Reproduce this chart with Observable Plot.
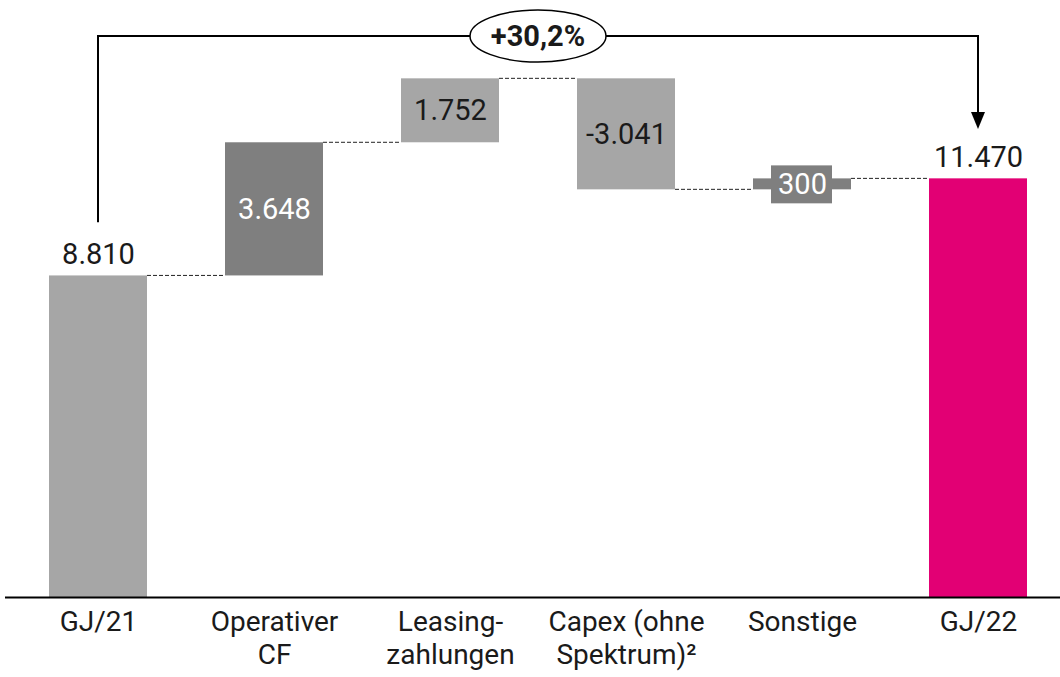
<!DOCTYPE html>
<html><head><meta charset="utf-8">
<script src="https://cdn.jsdelivr.net/npm/d3@7"></script>
<script src="https://cdn.jsdelivr.net/npm/@observablehq/plot@0.6"></script>
<style>body{margin:0;background:#fff;font-family:Roboto,sans-serif}</style>
</head><body><div id="chart"></div>
<script>
const categories = ["GJ/21","Operativer\nCF","Leasing-\nzahlungen","Capex (ohne\nSpektrum)²","Sonstige","GJ/22"];
const values = [8810, 3648, 1752, -3041, 300, 11470];
const kinds = ["total","delta","delta","delta","delta","total"];
const valueLabels = ["8.810","3.648","1.752","-3.041","300","11.470"];
const barColors = ["#a6a6a6","#7f7f7f","#a6a6a6","#a6a6a6","#7f7f7f","#e20074"];
const labelColors = ["#1a1a1a","#ffffff","#1a1a1a","#1a1a1a","#ffffff","#1a1a1a"];
const labelModes = ["above","inside","inside","inside","box","above"];
const bracketLevel = 15370;

// build waterfall rows
let running = 0;
const rows = categories.map((cat, i) => {
  let y1, y2;
  if (kinds[i] === "total") { y1 = 0; y2 = values[i]; running = values[i]; }
  else { y1 = running; y2 = running + values[i]; running = y2; }
  return {cat, y1, y2, end: running, color: barColors[i], label: valueLabels[i], labelColor: labelColors[i], mode: labelModes[i]};
});
const startVal = values[0], endVal = values[values.length - 1];
const pct = (endVal - startVal) / startVal * 100;
const changeLabel = (pct >= 0 ? "+" : "") + pct.toFixed(1).replace(".", ",") + "%";

const plot = Plot.plot({
  width: 1060, height: 677,
  marginLeft: 5, marginRight: 0, marginTop: 0, marginBottom: 80,
  x: {domain: categories, range: [48, 1028], paddingInner: 0.443, paddingOuter: 0, label: null},
  y: {domain: [0, 10000], range: [597, 232], axis: null},
  color: {type: "identity"},
  style: {fontFamily: "Roboto, sans-serif", background: "white", color: "#1a1a1a"},
  marks: [
    Plot.barY(rows, {x: "cat", y1: "y1", y2: "y2", fill: "color"}),
    Plot.barY(rows.filter(d => d.mode === "box"), {x: "cat", y1: "y1", y2: "y2", fill: "color", insetLeft: 18, insetRight: 19, insetTop: -13, insetBottom: -14}),
    Plot.ruleY([0], {stroke: "#000", strokeWidth: 2}),
    Plot.axisX({tickSize: 0, tickPadding: 11, fontSize: 28, lineHeight: 1.15, label: null}),
    Plot.text(rows.filter(d => d.mode === "above"), {x: "cat", y: "y2", text: "label", dy: -12, lineAnchor: "bottom", fontSize: 29, fill: "labelColor"}),
    Plot.text(rows.filter(d => d.mode !== "above"), {x: "cat", y: d => (d.y1 + d.y2) / 2, text: "label", lineAnchor: "middle", fontSize: 29, fill: "labelColor"})
  ]
});
document.getElementById("chart").appendChild(plot);

// annotations via the plot's scales
const xs = plot.scale("x"), ys = plot.scale("y");
const bw = xs.bandwidth;
const svg = d3.select(plot);
const g = svg.append("g");
// dashed connectors
for (let i = 0; i < rows.length - 1; i++) {
  const yy = ys.apply(rows[i].end);
  g.append("line")
    .attr("x1", xs.apply(rows[i].cat) + bw).attr("x2", xs.apply(rows[i + 1].cat))
    .attr("y1", yy).attr("y2", yy)
    .attr("stroke", "#222").attr("stroke-width", 1).attr("stroke-dasharray", "4,2");
}
// bracket with arrow
const cx0 = xs.apply(categories[0]) + bw / 2;
const cx1 = xs.apply(categories[categories.length - 1]) + bw / 2;
const yTop = ys.apply(bracketLevel);
const yStart = ys.apply(startVal + 1460);
const yTip = ys.apply(endVal + 1350);
g.append("path")
  .attr("d", `M${cx0},${yStart}V${yTop}H${cx1}V${yTip - 14}`)
  .attr("fill", "none").attr("stroke", "#000").attr("stroke-width", 2);
g.append("path")
  .attr("d", `M${cx1 - 7},${yTip - 17}L${cx1 + 7},${yTip - 17}L${cx1},${yTip}Z`)
  .attr("fill", "#000");
const ex = (cx0 + cx1) / 2;
g.append("ellipse").attr("cx", ex).attr("cy", yTop).attr("rx", 68).attr("ry", 26)
  .attr("fill", "#fff").attr("stroke", "#000").attr("stroke-width", 1.5);
g.append("text").attr("x", ex).attr("y", yTop).attr("dy", "0.36em")
  .attr("text-anchor", "middle").attr("font-size", 29).attr("font-weight", "bold")
  .attr("font-family", "Roboto, sans-serif").attr("fill", "#1a1a1a").text(changeLabel);
</script></body></html>
